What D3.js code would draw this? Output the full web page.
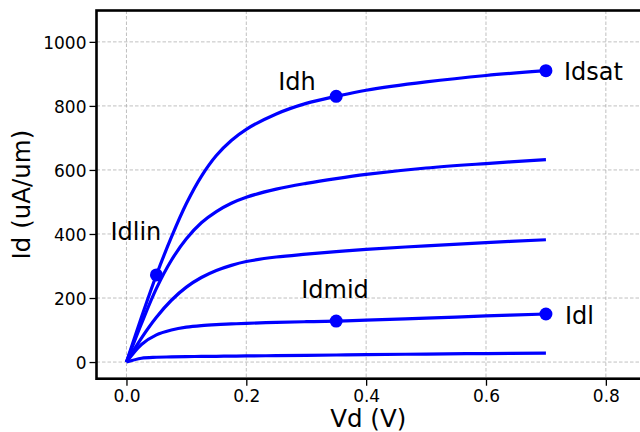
<!DOCTYPE html>
<html>
<head>
<meta charset="utf-8">
<script src="https://cdn.jsdelivr.net/npm/d3@7"></script>
<style>
  body { margin: 0; background: #fff; }
  svg { display: block; font-family: "DejaVu Sans", sans-serif; }
  .grid line { stroke: #b0b0b0; stroke-width: 0.8; stroke-dasharray: 3.5,2; }
  .tick text { font-family: "DejaVu Sans", sans-serif; font-size: 17px; fill: #000; }
  .tick line { stroke: #000; stroke-width: 1.3; }
</style>
</head>
<body>
<div id="chart"></div>
<script>
let svgWidth = 640;
let svgHeight = 432;
let margin = { top: 10.5, right: 0, bottom: 53.3, left: 96.5 };
let width = svgWidth - margin.left - margin.right;
let height = svgHeight - margin.top - margin.bottom;

// Data: Vd sweep and Id curves (uA/um)

let vd  = [0, 0.025, 0.05, 0.075, 0.1, 0.125, 0.15, 0.175, 0.2, 0.25, 0.3, 0.35, 0.4, 0.5, 0.6, 0.7];
let id1 = [0, 140, 272, 390, 495, 580, 645, 692, 727, 775, 808, 830, 849, 875, 895, 910];
let id2 = [0, 120, 230, 318, 385, 435, 470, 496, 515, 540, 558, 573, 586, 606, 620, 632];
let id3 = [0, 75, 140, 193, 234, 264, 286, 302, 314, 328, 337, 345, 352, 363, 373, 382];
let id4 = [0, 55, 85, 100, 109, 114, 117, 119, 121, 124, 126, 128, 131, 137, 144, 150];
let id5 = [0, 12, 15, 16, 17, 17.5, 18, 18.5, 19, 20, 21, 22, 23, 25, 26.5, 28];

let markerVd = [0.05, 0.35, 0.7, 0.35, 0.7];
let markerId = [272, 830, 910, 128, 150];
let markerNames = ["Idlin", "Idh", "Idsat", "Idmid", "Idl"];

let xTicks = [0.0, 0.2, 0.4, 0.6, 0.8];
let yTicks = [0, 200, 400, 600, 800, 1000];

// Scales

let svg = d3.select("#chart").append("svg").attr("width", svgWidth).attr("height", svgHeight);
let chartGroup = svg.append("g").attr("transform", `translate(${margin.left}, ${margin.top})`);

let x = d3.scaleLinear().domain([-0.05, 0.857]).range([0, width]);
let y = d3.scaleLinear().domain([-52, 1098]).range([height, 0]);

// Grid

chartGroup.append("g").attr("class", "grid")
  .selectAll("line").data(xTicks).enter().append("line")
  .attr("x1", d => x(d)).attr("x2", d => x(d))
  .attr("y1", 0).attr("y2", height);

chartGroup.append("g").attr("class", "grid")
  .selectAll("line").data(yTicks).enter().append("line")
  .attr("x1", 0).attr("x2", width)
  .attr("y1", d => y(d)).attr("y2", d => y(d));

// Axes

let xAxis = chartGroup.append("g")
  .attr("transform", `translate(0, ${height})`)
  .call(d3.axisBottom(x).tickValues(xTicks).tickFormat(d3.format(".1f")).tickSize(7).tickPadding(4).tickSizeOuter(0));
xAxis.select(".domain").remove();

let yAxis = chartGroup.append("g")
  .call(d3.axisLeft(y).tickValues(yTicks).tickFormat(d3.format("d")).tickSize(7).tickPadding(3).tickSizeOuter(0));
yAxis.select(".domain").remove();
yAxis.selectAll(".tick text").attr("dy", "0.36em");

// Curves

let line = d3.line()
  .x((d, i) => x(vd[i]))
  .y(d => y(d))
  .curve(d3.curveCatmullRom.alpha(0.5));

chartGroup.selectAll(".curve")
  .data([id1, id2, id3, id4, id5])
  .enter()
  .append("path")
  .attr("class", "curve")
  .attr("d", line)
  .attr("fill", "none")
  .attr("stroke", "#0000ff")
  .attr("stroke-width", 3.2)
  .attr("stroke-linejoin", "round");

// Markers and labels

chartGroup.selectAll(".marker")
  .data(markerVd)
  .enter()
  .append("circle")
  .attr("class", "marker")
  .attr("cx", d => x(d))
  .attr("cy", (d, i) => y(markerId[i]))
  .attr("r", 6.5)
  .attr("fill", "#0000ff");

let labelOffsets = {
  Idlin: [-46, -35],
  Idh: [-58, -6],
  Idsat: [18, 9],
  Idmid: [-35, -23],
  Idl: [19, 10]
};

chartGroup.selectAll(".ann")
  .data(markerNames)
  .enter()
  .append("text")
  .attr("class", "ann")
  .attr("x", (d, i) => x(markerVd[i]) + labelOffsets[d][0])
  .attr("y", (d, i) => y(markerId[i]) + labelOffsets[d][1])
  .attr("font-size", "24px")
  .attr("fill", "#000")
  .text(d => d);

// Frame

chartGroup.append("rect")
  .attr("x", 0).attr("y", 0)
  .attr("width", width + 10).attr("height", height)
  .attr("fill", "none")
  .attr("stroke", "#000")
  .attr("stroke-width", 2.6);

// Axis labels

svg.append("text")
  .attr("x", margin.left + width / 2)
  .attr("y", 427)
  .attr("text-anchor", "middle")
  .attr("font-size", "24.5px")
  .text("Vd (V)");

svg.append("text")
  .attr("transform", `translate(30, ${margin.top + height / 2}) rotate(-90)`)
  .attr("text-anchor", "middle")
  .attr("font-size", "24.5px")
  .text("Id (uA/um)");
</script>
</body>
</html>
